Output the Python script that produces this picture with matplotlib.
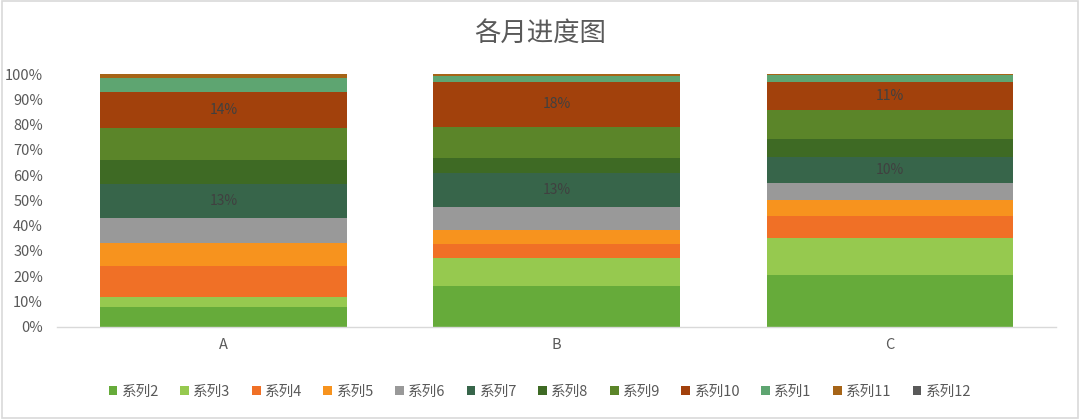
import matplotlib
matplotlib.use("Agg")
import matplotlib.pyplot as plt
from matplotlib.patches import Rectangle
import numpy as np

plt.rcParams['font.family'] = ['Noto Sans CJK SC', 'DejaVu Sans']

categories = ["A", "B", "C"]
series_names = ["系列2", "系列3", "系列4", "系列5", "系列6", "系列7",
                "系列8", "系列9", "系列10", "系列1", "系列11", "系列12"]
s2 = [7.9, 16.1, 20.4]
s3 = [4.0, 10.9, 14.8]
s4 = [12.1, 5.7, 8.6]
s5 = [9.0, 5.5, 6.3]
s6 = [10.1, 9.2, 6.9]
s7 = [13.2, 13.2, 10.3]
s8 = [9.7, 5.9, 7.0]
s9 = [12.5, 12.5, 11.5]
s10 = [14.4, 17.8, 11.0]
s1 = [5.3, 2.2, 2.9]
s11 = [1.7, 0.8, 0.3]
s12 = [0.0, 0.1, 0.0]
series_values = [s2, s3, s4, s5, s6, s7, s8, s9, s10, s1, s11, s12]
labeled_series = ["系列7", "系列10"]
yticks = [0, 0.1, 0.2, 0.3, 0.4, 0.5, 0.6, 0.7, 0.8, 0.9, 1.0]
ytick_labels = ["0%", "10%", "20%", "30%", "40%", "50%", "60%", "70%", "80%", "90%", "100%"]

colors = ["#66AB3A", "#96C94F", "#F07026", "#F7931E", "#999999", "#37654A",
          "#3E6A24", "#5B8529", "#A2410C", "#5EA571", "#A66417", "#595959"]

fig = plt.figure(figsize=(10.8, 4.19), dpi=100)
ax = fig.add_axes([57/1080, 1 - 326.7/419, (1056.5 - 57)/1080, (326.7 - 74)/419])

data = np.array(series_values, dtype=float)
totals = data.sum(axis=0)
frac = data / totals
x = np.arange(len(categories))
bottom = np.zeros(len(categories))
handles = []
for name, vals, col in zip(series_names, frac, colors):
    b = ax.bar(x, vals, width=0.74, bottom=bottom, color=col, label=name, linewidth=0)
    handles.append(b)
    if name in labeled_series:
        for xi, v, bt in zip(x, vals, bottom):
            ax.text(xi, bt + v / 2, f"{round(v * 100):.0f}%", ha="center", va="center",
                    fontsize=10, color="#404040")
    bottom = bottom + vals

ax.set_xlim(-0.5, len(categories) - 0.5)
ax.set_ylim(0, 1)
ax.set_yticks(yticks)
ax.set_yticklabels(ytick_labels)
ax.set_xticks(x)
ax.set_xticklabels(categories)
ax.tick_params(axis="both", length=0, labelsize=10.5, labelcolor="#595959")
ax.tick_params(axis="x", pad=8)
ax.tick_params(axis="y", pad=10)
for sp in ["top", "right", "left"]:
    ax.spines[sp].set_visible(False)
ax.spines["bottom"].set_color("#D9D9D9")
ax.spines["bottom"].set_linewidth(1)

fig.text(0.5, 1 - 33/419, "各月进度图", ha="center", va="center", fontsize=19, color="#595959")

fig.legend(handles=handles, labels=series_names, loc="center", bbox_to_anchor=(0.5, 1 - 392/419),
           ncol=12, frameon=False, fontsize=10.5, handlelength=0.6, handleheight=0.6,
           handletextpad=0.3, columnspacing=1.45, labelcolor="#595959")

fig.patches.append(Rectangle((0.002, 0.002), 0.996, 0.996, transform=fig.transFigure,
                             fill=False, edgecolor="#D9D9D9", linewidth=1.2))

fig.savefig("out.png", dpi=100)
